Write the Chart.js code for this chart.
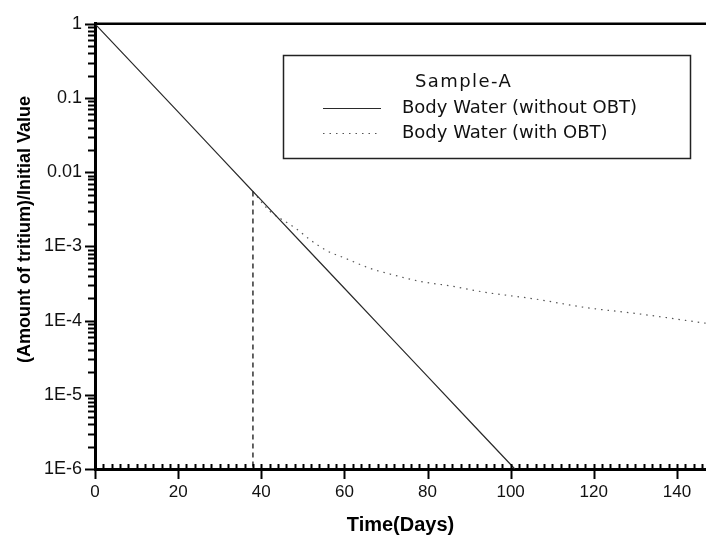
<!DOCTYPE html>
<html>
<head>
<meta charset="utf-8">
<script src="https://cdn.jsdelivr.net/npm/chart.js@4/dist/chart.umd.min.js"></script>
<style>
  html, body { margin: 0; padding: 0; background: #ffffff; }
  #wrap { width: 706px; height: 542px; }
</style>
</head>
<body>
<div id="wrap"><canvas id="c" width="706" height="542"></canvas></div>
<script>
// ---- data ----
const days = [0, 10, 20, 30, 38, 40, 50, 60, 70, 80, 90, 100, 101];
const bodyWaterWithoutOBT = [1, 0.255, 0.065, 0.0165, 0.0055, 0.0042, 0.00107, 0.000273, 0.0000695, 0.0000177, 0.0000045, 0.00000115, 0.000001];

const obtDays = [38, 42, 45, 48, 52, 56, 60, 66, 72, 78, 86, 94, 106, 118, 130, 147];
const bodyWaterWithOBT = [0.0055, 0.003, 0.0023, 0.0018, 0.0012, 0.00086, 0.0007, 0.00051, 0.00041, 0.00034, 0.00029, 0.00024, 0.000195, 0.00015, 0.000125, 0.000092];

const markerDays = [38, 38];
const markerValues = [0.0055, 0.000001];

const xTickValues = [0, 20, 40, 60, 80, 100, 120, 140];
const yTickValues = [0.000001, 0.00001, 0.0001, 0.001, 0.01, 0.1, 1];
const yTickLabels = ['1E-6', '1E-5', '1E-4', '1E-3', '0.01', '0.1', '1'];

const legendTitle = 'Sample-A';
const seriesLabels = ['Body Water (without OBT)', 'Body Water (with OBT)'];
const xTitle = 'Time(Days)';
const yTitle = '(Amount of tritium)/Initial Value';

const toPoints = (xs, ys) => xs.map((x, i) => ({ x: x, y: ys[i] }));

const decorPlugin = {
  id: 'decor',
  afterDraw(chart) {
    const ctx = chart.ctx;
    const area = chart.chartArea;
    const xs = chart.scales.x;
    const ys = chart.scales.y;
    ctx.save();
    ctx.strokeStyle = '#000';
    ctx.setLineDash([]);
    // top frame line
    ctx.lineWidth = 2.5;
    ctx.beginPath();
    ctx.moveTo(area.left, area.top);
    ctx.lineTo(area.right, area.top);
    ctx.stroke();

    // y ticks (log): majors at decades, minors 2..9, pointing outward
    const x0 = area.left;
    for (let e = -6; e <= 0; e++) {
      const v = Math.pow(10, e);
      const p = Math.round(ys.getPixelForValue(v)) + 0.5;
      ctx.lineWidth = 2;
      ctx.beginPath(); ctx.moveTo(x0 - 10, p); ctx.lineTo(x0 + 1, p); ctx.stroke();
      if (e < 0) {
        for (let m = 2; m <= 9; m++) {
          const pm = Math.round(ys.getPixelForValue(m * v)) + 0.5;
          ctx.lineWidth = 2;
          ctx.beginPath(); ctx.moveTo(x0 - 7, pm); ctx.lineTo(x0 + 1, pm); ctx.stroke();
        }
      }
    }
    // x ticks: majors every 20 (down), minors every 2 (up)
    const y0 = area.bottom;
    for (let d = 0; d <= xs.max; d += 2) {
      const p = Math.round(xs.getPixelForValue(d)) + 0.5;
      ctx.lineWidth = 2;
      ctx.beginPath();
      if (d % 20 === 0) { ctx.moveTo(p, y0 - 5); ctx.lineTo(p, y0 + 10); }
      else { ctx.moveTo(p, y0 - 5); ctx.lineTo(p, y0); }
      ctx.stroke();
    }

    // y axis title
    ctx.save();
    ctx.translate(25, 229.5);
    ctx.rotate(-Math.PI / 2);
    ctx.fillStyle = '#000';
    ctx.textAlign = 'center';
    ctx.textBaseline = 'middle';
    ctx.font = 'bold 18px "Liberation Sans", Arial, sans-serif';
    ctx.fillText(yTitle, 0, 0);
    ctx.restore();

    // legend box
    const bx = 283, by = 55, bw = 407, bh = 103;
    ctx.lineWidth = 1.5;
    ctx.strokeStyle = '#222';
    ctx.strokeRect(bx + 0.5, by + 0.5, bw, bh);
    ctx.fillStyle = '#111';
    ctx.textBaseline = 'middle';
    ctx.textAlign = 'left';
    ctx.font = '18px "DejaVu Sans"';
    try { ctx.letterSpacing = '1.4px'; } catch (err) {}
    ctx.fillText(legendTitle, 415, 82);
    try { ctx.letterSpacing = '0px'; } catch (err) {}
    const rows = [108, 133];
    chart.data.datasets.slice(0, 2).forEach((ds, i) => {
      ctx.strokeStyle = ds.borderColor;
      ctx.lineWidth = ds.borderWidth;
      ctx.setLineDash(ds.borderDash || []);
      ctx.beginPath();
      ctx.moveTo(323, rows[i] + 0.5);
      ctx.lineTo(381, rows[i] + 0.5);
      ctx.stroke();
      ctx.setLineDash([]);
      ctx.fillStyle = '#111';
      ctx.fillText(ds.label, 402, rows[i]);
    });
    ctx.restore();
  }
};

new Chart(document.getElementById('c'), {
  type: 'line',
  data: {
    datasets: [
      {
        label: seriesLabels[0],
        data: toPoints(days, bodyWaterWithoutOBT),
        borderColor: '#2a2a2a',
        borderWidth: 1.2,
        pointRadius: 0,
        tension: 0
      },
      {
        label: seriesLabels[1],
        data: toPoints(obtDays, bodyWaterWithOBT),
        borderColor: '#555555',
        borderWidth: 1.2,
        borderDash: [1.5, 5],
        pointRadius: 0,
        cubicInterpolationMode: 'monotone'
      },
      {
        label: 'marker',
        data: toPoints(markerDays, markerValues),
        borderColor: '#111111',
        borderWidth: 1.3,
        borderDash: [5, 4],
        pointRadius: 0
      }
    ]
  },
  options: {
    responsive: false,
    animation: false,
    devicePixelRatio: 1,
    layout: { padding: { top: 14, right: 0, bottom: 0, left: 0 } },
    plugins: {
      legend: { display: false },
      tooltip: { enabled: false }
    },
    scales: {
      x: {
        type: 'linear',
        min: 0,
        max: 147,
        afterBuildTicks: (s) => { s.ticks = xTickValues.map(v => ({ value: v })); },
        afterFit: (s) => { s.height = 73; },
        grid: { display: false, drawTicks: false },
        border: { display: true, color: '#000', width: 3 },
        ticks: {
          color: '#111',
          padding: 13,
          maxRotation: 0,
          autoSkip: false,
          font: { family: '"Liberation Sans", Arial, sans-serif', size: 17 },
          callback: (v) => String(v)
        },
        title: {
          display: true,
          text: xTitle,
          color: '#000',
          padding: { top: 0, bottom: 5 },
          font: { family: '"Liberation Sans", Arial, sans-serif', size: 20, weight: 'bold' }
        }
      },
      y: {
        type: 'logarithmic',
        min: 0.000001,
        max: 1,
        afterBuildTicks: (s) => { s.ticks = yTickValues.map(v => ({ value: v, major: true })); },
        afterFit: (s) => { s.width = 95; },
        grid: { display: false, drawTicks: false },
        border: { display: true, color: '#000', width: 3 },
        ticks: {
          color: '#111',
          padding: 13,
          autoSkip: false,
          font: { family: '"Liberation Sans", Arial, sans-serif', size: 18 },
          callback: (v) => {
            const i = yTickValues.findIndex(t => Math.abs(Math.log10(t) - Math.log10(v)) < 1e-6);
            return i >= 0 ? yTickLabels[i] : '';
          }
        },
        title: { display: false }
      }
    }
  },
  plugins: [decorPlugin]
});
</script>
</body>
</html>
